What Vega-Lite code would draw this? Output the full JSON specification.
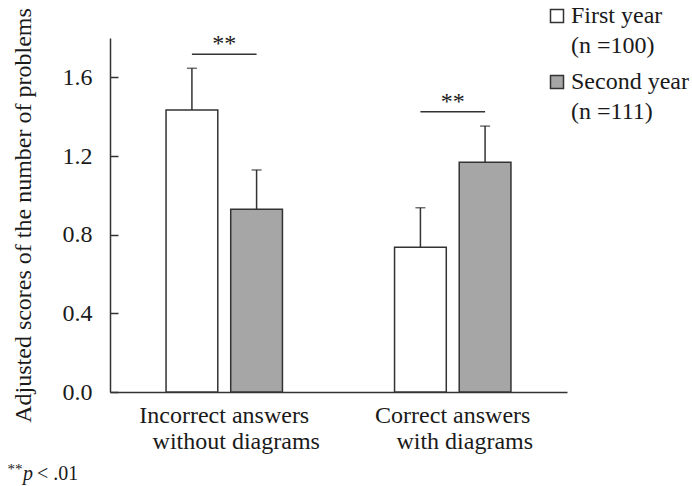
{
  "$schema": "https://vega.github.io/schema/vega-lite/v6.json",
  "width": 457,
  "height": 354,
  "autosize": {"type": "none"},
  "padding": {"left": 110, "top": 38, "right": 125, "bottom": 94},
  "background": "white",
  "config": {
    "font": "Liberation Serif",
    "view": {"stroke": null},
    "axis": {
      "labelFont": "Liberation Serif",
      "titleFont": "Liberation Serif",
      "labelColor": "#1a1a1a",
      "titleColor": "#1a1a1a",
      "domainColor": "#333333",
      "tickColor": "#333333",
      "domainWidth": 1.5,
      "tickWidth": 1.5,
      "grid": false
    },
    "axisY": {
      "labelOverlap": false,
      "labelSeparation": -50,
      "labelFontSize": 24,
      "ticks": true,
      "tickSize": -8,
      "labelPadding": 26,
      "zindex": 1
    },
    "legend": {
      "orient": "none",
      "legendX": 435,
      "legendY": -34,
      "symbolType": "square",
      "symbolSize": 169,
      "symbolStrokeColor": "#333333",
      "symbolStrokeWidth": 1.5,
      "labelFont": "Liberation Serif",
      "labelFontSize": 24,
      "labelColor": "#1a1a1a",
      "labelLimit": 0,
      "labelOffset": 2,
      "labelBaseline": "middle",
      "rowPadding": 12
    },
    "style": {"guide-label": {"lineHeight": 30}}
  },
  "title": {
    "text": "p",
    "subtitle": {"expr": "'\\u200b\\u2002\\u2009< .01'"},
    "orient": "bottom",
    "anchor": "start",
    "frame": "group",
    "font": "Liberation Serif",
    "fontSize": 20,
    "fontStyle": "italic",
    "fontWeight": "normal",
    "color": "#1a1a1a",
    "subtitleFont": "Liberation Serif",
    "subtitleFontSize": 20,
    "subtitleFontStyle": "normal",
    "subtitleColor": "#1a1a1a",
    "subtitlePadding": -20,
    "dx": -87,
    "offset": -12
  },
  "datasets": {
    "bars": [
      {"group": "Incorrect answers without diagrams", "year": "First year", "v": 1.434, "upper": 1.646},
      {"group": "Incorrect answers without diagrams", "year": "Second year", "v": 0.929, "upper": 1.129},
      {"group": "Correct answers with diagrams", "year": "First year", "v": 0.736, "upper": 0.937},
      {"group": "Correct answers with diagrams", "year": "Second year", "v": 1.168, "upper": 1.352}
    ],
    "caps": [
      {"group": "Incorrect answers without diagrams", "year": "First year", "v": 1.646},
      {"group": "Incorrect answers without diagrams", "year": "Second year", "v": 1.129},
      {"group": "Correct answers with diagrams", "year": "First year", "v": 0.937},
      {"group": "Correct answers with diagrams", "year": "Second year", "v": 1.352}
    ],
    "sig": [
      {"group": "Incorrect answers without diagrams", "year": "First year", "v": 1.717},
      {"group": "Incorrect answers without diagrams", "year": "Second year", "v": 1.717},
      {"group": "Correct answers with diagrams", "year": "First year", "v": 1.425},
      {"group": "Correct answers with diagrams", "year": "Second year", "v": 1.425}
    ],
    "stars": [
      {"group": "Incorrect answers without diagrams", "v": 1.717, "label": "**"},
      {"group": "Correct answers with diagrams", "v": 1.425, "label": "**"}
    ]
  },
  "layer": [
    {
      "data": {"name": "bars"},
      "mark": {"type": "bar", "stroke": "#333333", "strokeWidth": 1.5},
      "encoding": {
        "x": {
          "field": "group",
          "type": "nominal",
          "sort": ["Incorrect answers without diagrams", "Correct answers with diagrams"],
          "scale": {"paddingInner": 0.4, "paddingOuter": 0.2},
          "axis": {
            "title": "**",
            "titleFontSize": 15,
            "titleFontWeight": "normal",
            "titleAnchor": "start",
            "titleAlign": "left",
            "titleBaseline": "alphabetic",
            "titleX": -103,
            "titleY": 81,
            "labelAngle": 0,
            "labelFontSize": 24,
            "labelLineHeight": 26,
            "labelPadding": 11,
            "labelLimit": 0,
            "ticks": false,
            "tickSize": 0,
            "labelExpr": "datum.value == 'Incorrect answers without diagrams' ? ['Incorrect answers', '\\u200b\\u2002\\u2002without diagrams'] : ['Correct answers', '\\u200b\\u2002\\u2002with diagrams']"
          }
        },
        "xOffset": {
          "field": "year",
          "type": "nominal",
          "scale": {"paddingInner": 0.2, "paddingOuter": 0.16}
        },
        "y": {
          "field": "v",
          "type": "quantitative",
          "scale": {"domain": [0, 1.8]},
          "axis": {
            "title": "Adjusted scores of the number of problems",
            "titleFontSize": 24,
            "titleFontWeight": "normal",
            "titlePadding": 27,
            "values": [0, 0.2, 0.4, 0.6, 0.8, 1.0, 1.2, 1.4, 1.6, 1.8],
            "format": ".1f",
            "labelOverlap": false,
            "labelSeparation": -50,
            "ticks": true,
            "tickSize": -8,
            "labelPadding": 26,
            "zindex": 1
          }
        },
        "fill": {
          "field": "year",
          "type": "nominal",
          "scale": {"domain": ["First year", "Second year"], "range": ["#ffffff", "#a6a6a6"]},
          "legend": {
            "title": null,
            "labelExpr": "datum.label == 'First year' ? ['First year', '(n =100)'] : ['Second year', '(n =111)']"
          }
        }
      }
    },
    {
      "data": {"name": "bars"},
      "mark": {"type": "rule", "stroke": "#333333", "strokeWidth": 1.5},
      "encoding": {
        "x": {"field": "group", "type": "nominal", "sort": ["Incorrect answers without diagrams", "Correct answers with diagrams"]},
        "xOffset": {"field": "year", "type": "nominal"},
        "y": {"field": "v", "type": "quantitative"},
        "y2": {"field": "upper"}
      }
    },
    {
      "data": {"name": "caps"},
      "mark": {"type": "tick", "color": "#333333", "thickness": 1.5, "size": 10, "orient": "horizontal"},
      "encoding": {
        "x": {"field": "group", "type": "nominal", "sort": ["Incorrect answers without diagrams", "Correct answers with diagrams"]},
        "xOffset": {"field": "year", "type": "nominal"},
        "y": {"field": "v", "type": "quantitative"}
      }
    },
    {
      "data": {"name": "sig"},
      "mark": {"type": "line", "stroke": "#333333", "strokeWidth": 1.5},
      "encoding": {
        "x": {"field": "group", "type": "nominal", "sort": ["Incorrect answers without diagrams", "Correct answers with diagrams"]},
        "xOffset": {"field": "year", "type": "nominal"},
        "y": {"field": "v", "type": "quantitative"},
        "detail": {"field": "group"}
      }
    },
    {
      "data": {"name": "stars"},
      "mark": {"type": "text", "font": "Liberation Serif", "fontSize": 24, "color": "#1a1a1a", "baseline": "alphabetic", "dy": -3},
      "encoding": {
        "x": {"field": "group", "type": "nominal", "sort": ["Incorrect answers without diagrams", "Correct answers with diagrams"]},
        "y": {"field": "v", "type": "quantitative"},
        "text": {"field": "label"}
      }
    }
  ]
}
